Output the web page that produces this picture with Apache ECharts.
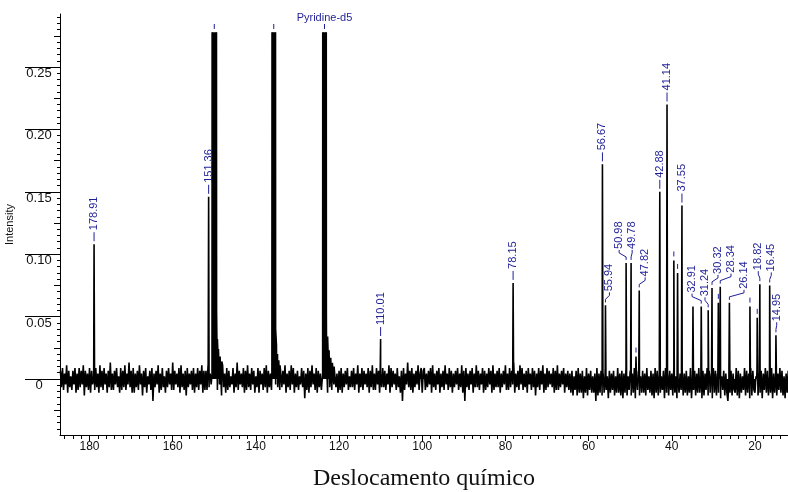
<!DOCTYPE html>
<html>
<head>
<meta charset="utf-8">
<script src="https://cdn.jsdelivr.net/npm/echarts@6/dist/echarts.min.js"></script>
<style>
  html, body { margin: 0; padding: 0; background: #fff; }
  #chart { width: 788px; height: 492px; }
</style>
</head>
<body>
<div id="chart"></div>
<script>
// 13C spectrum: axis tick values
const xTickLabels = [180, 160, 140, 120, 100, 80, 60, 40, 20];
const yTickLabels = [0, 0.05, 0.10, 0.15, 0.20, 0.25];

// Assigned signals (ppm) and their intensities
const peakShifts = [178.91, 151.36, 110.01, 78.15, 56.67, 55.94, 50.98, 49.78, 47.82, 42.88,
                    41.14, 37.55, 32.91, 31.24, 30.32, 28.34, 26.14, 18.82, 16.45, 14.95];
const peakHeights = [0.108, 0.146, 0.032, 0.077, 0.172, 0.059, 0.093, 0.093, 0.071, 0.150,
                     0.220, 0.139, 0.058, 0.055, 0.073, 0.074, 0.061, 0.076, 0.075, 0.035];

// Picked but unlabelled signals
const markedShifts = [48.6, 39.5, 38.6, 28.8, 21.2, 19.45];
const markedHeights = [0.018, 0.095, 0.085, 0.061, 0.058, 0.049];

// Signals that were not picked
const plainShifts = [34.9];
const plainHeights = [0.058];

// Solvent multiplets [ppm, intensity]: the body is far off scale, then a short tail upfield
const solventName = 'Pyridine-d5';
const solventC2Body = [[150.55, 0.004], [150.45, 0.9], [149.55, 0.9]];
const solventC2Tail = [[149.45, 0.055], [149.25, 0.032], [149.0, 0.024], [148.6, 0.018], [148.2, 0.014], [147.8, 0.011]];
const solventC4Body = [[136.15, 0.004], [136.05, 0.9], [135.35, 0.9]];
const solventC4Tail = [[135.25, 0.04], [135.05, 0.027], [134.8, 0.02], [134.5, 0.015], [134.2, 0.011]];
const solventC3Body = [[123.95, 0.004], [123.85, 0.9], [123.15, 0.9]];
const solventC3Tail = [[123.05, 0.05], [122.75, 0.034], [122.4, 0.023], [122.0, 0.017], [121.6, 0.013], [121.2, 0.01]];

// Baseline noise, one letter per point ('m' = 0, one letter = 0.0022)
const noiseStart = 187.0;
const noiseStep = 0.25;
const noiseRows = [
  'pjqiokrhpj nipkqhoiqj pkrgpjoiqh pkniqjohrj piqkohpjsi oipkqjnhqi pjrioksjph',
  'qhojpirkog pjqhnkpiqe ojpkrhoiqj nhpjqkoisi pkojqhrjoi pgqjokpiqh ojqipkrhpi',
  'pirjokqhpj oiqkpgrjoh qipjnkqhoj sipkojqhpi rjoiqkphnj qhpkoiqjrh pjoiqgpkoj',
  'qiojpkrhoj pirkqhojpi nkqjpfoiqh pjrkoiqhpj oiqjpkshoj qipkrjohpi qhojpkqinj',
  'pjqiokrhoj qipkojqhpj rioiqkphoj qjpiokrhqj pkoiqjnhpe qioksjpiqh ojpkrioqhp',
  'qiojpkqhrj oipkqhojpi rkoiqjphoj pkqiojrhpe qjoipkqhoj rjpiokqhpi ojqkphrioj',
  'pjqhojpkri oiqjpkshoj pirkqiojph qkoiqjpgoj qipkrhoiqj pkojqhpiri ojpkqhojpi',
  'ohpgnipgqh ohpfnhqgoi phnhoeqgoh pgohqinfph oipgnhqhog pfohqgnipg ohqfoipgnh',
  'phogqinhpg ofqhpgohni pfqhogpiog qhnfphoiqg ohpgnhqfoi pgohqhnfpg oiqgphofqh',
  'pgohqfnipg oheqhpgoih qgpfohniqg phofqgpihn qgohpfoiqh pgnhqfohpg oiqhpgnfoh pgqhoi'
];

// ---------------------------------------------------------------------------
const INK = '#000';
const BLUE = '#1f1f98';
const SANS = '"Liberation Sans", Arial, Helvetica, sans-serif';
const SERIF = '"Liberation Serif", "Times New Roman", serif';

// frame layout (pixels) and axis extents
const PLOT_LEFT = 60, PLOT_TOP = 14, CLIP_TOP = 33, PLOT_BOTTOM = 435, W = 788, H = 492;
const X_MIN = 12.05, X_MAX = 187.1;
const Y_MIN = -0.0449, Y_MAX = 0.2925;
// spectrum panel is cut off a little below the frame top, same scale
const Y_CLIP = Y_MIN + (Y_MAX - Y_MIN) * (PLOT_BOTTOM - CLIP_TOP) / (PLOT_BOTTOM - PLOT_TOP);

// build the spectrum trace
const noise = noiseRows.join('').replace(/ /g, '').split('')
  .map(ch => (ch.charCodeAt(0) - 109) * 0.0022);
const solventBodies = [solventC2Body, solventC4Body, solventC3Body];
const solventTails = [solventC2Tail, solventC4Tail, solventC3Tail];
const bodyRanges = solventBodies.map(b => [b[b.length - 1][0], b[0][0]]);
const spectrum = [];
noise.forEach((v, i) => {
  const x = +(noiseStart - i * noiseStep).toFixed(3);
  if (bodyRanges.some(r => x >= r[0] - 0.05 && x <= r[1] + 0.05)) return;
  spectrum.push([x, v]);
});
solventBodies.forEach(b => b.forEach(p => spectrum.push([p[0], p[1]])));
solventTails.forEach(t => t.forEach(p => spectrum.push([p[0], p[1]])));
const HALF = 0.12;
function addStick(p, h) { spectrum.push([p + HALF, 0], [p, h], [p - HALF, 0]); }
peakShifts.forEach((p, i) => addStick(p, peakHeights[i]));
markedShifts.forEach((p, i) => addStick(p, markedHeights[i]));
plainShifts.forEach((p, i) => addStick(p, plainHeights[i]));
spectrum.sort((a, b) => b[0] - a[0]);

// tick helpers
function stepValues(lo, hi, step) {
  const out = [];
  for (let k = Math.ceil(lo / step - 1e-9); k * step <= hi + 1e-9; k++) out.push(+(k * step).toFixed(6));
  return out;
}
const xMinor = stepValues(X_MIN, X_MAX, 2);
const yMid = stepValues(Y_MIN, Y_MAX, 0.025);
const yMinor = stepValues(Y_MIN, Y_MAX, 0.005);

// text measurement for the rotated peak labels
const measureCtx = document.createElement('canvas').getContext('2d');
measureCtx.font = '11px ' + SANS;
const fmtShift = p => p.toFixed(2);

// label placement: start above each peak, push overlapping labels apart
// and keep labels off the lines of other signals
const GAP = 13, LINE_CLEAR = 7;
let labelLayout = null;
function layoutLabels(api) {
  const items = peakShifts.map((p, i) => {
    const pt = api.coord([p, peakHeights[i]]);
    return { px: pt[0], py: pt[1], lx: pt[0], w: measureCtx.measureText(fmtShift(p)).width };
  });
  const sticks = [];
  [[peakShifts, peakHeights], [markedShifts, markedHeights], [plainShifts, plainHeights]].forEach(([xs, hs]) => {
    xs.forEach((p, i) => { const pt = api.coord([p, hs[i]]); sticks.push({ x: pt[0], top: pt[1] }); });
  });
  const top = it => it.py - 15 - it.w;
  const bottom = it => it.py - 3;
  for (let iter = 0; iter < 400; iter++) {
    let moved = false;
    for (let a = 0; a < items.length; a++) {
      for (let b = a + 1; b < items.length; b++) {
        const A = items[a], B = items[b];
        if (!(top(A) < bottom(B) && top(B) < bottom(A))) continue;
        const dx = B.lx - A.lx;
        if (Math.abs(dx) < GAP - 0.01) {
          const push = (GAP - Math.abs(dx)) / 2;
          if (dx >= 0) { A.lx -= push; B.lx += push; } else { A.lx += push; B.lx -= push; }
          moved = true;
        }
      }
    }
    items.forEach(it => {
      sticks.forEach(s => {
        if (Math.abs(s.x - it.px) < 0.01) return;
        if (s.top >= bottom(it)) return;
        const d = it.lx - s.x;
        if (Math.abs(d) < LINE_CLEAR - 0.01) {
          it.lx = s.x + (d >= 0 ? LINE_CLEAR : -LINE_CLEAR);
          moved = true;
        }
      });
    });
    if (!moved) break;
  }
  items.forEach(it => { if (it.lx > W - 7) it.lx = W - 7; });
  return items;
}

function renderPeakLabel(params, api) {
  if (params.dataIndex === 0 || !labelLayout) labelLayout = layoutLabels(api);
  const L = labelLayout[params.dataIndex];
  const shifted = Math.abs(L.lx - L.px) > 0.6;
  const pts = shifted
    ? [[L.px, L.py - 3], [L.px, L.py - 6], [L.lx, L.py - 10], [L.lx, L.py - 13]]
    : [[L.px, L.py - 3], [L.px, L.py - 12]];
  return {
    type: 'group',
    children: [
      { type: 'polyline', shape: { points: pts }, style: { stroke: BLUE, lineWidth: 1, fill: null } },
      {
        type: 'text', x: L.lx, y: L.py - 14, rotation: Math.PI / 2,
        style: { text: fmtShift(peakShifts[params.dataIndex]), fill: BLUE, fontSize: 11,
                 fontFamily: SANS, align: 'left', verticalAlign: 'middle' }
      }
    ]
  };
}

// short pick marks; the solvent name sits over the last solvent signal
const markData = markedShifts.map((p, i) => [p, markedHeights[i], 0]);
solventBodies.forEach((b, k) => {
  const bodyTop = Math.max(...b.map(q => q[1]));
  const centre = (b[1][0] + b[2][0]) / 2;
  markData.push([centre, Math.min(bodyTop, Y_CLIP), k === solventBodies.length - 1 ? 1 : 0]);
});
function renderMark(params, api) {
  const pt = api.coord([api.value(0), api.value(1)]);
  const children = [
    { type: 'line', shape: { x1: pt[0], y1: pt[1] - 4, x2: pt[0], y2: pt[1] - 9 },
      style: { stroke: BLUE, lineWidth: 1 } }
  ];
  if (api.value(2) === 1) {
    children.push({
      type: 'text', x: pt[0], y: pt[1] - 10,
      style: { text: solventName, fill: BLUE, fontSize: 11, fontFamily: SANS,
               align: 'center', verticalAlign: 'bottom' }
    });
  }
  return { type: 'group', children };
}

const chart = echarts.init(document.getElementById('chart'), null, { renderer: 'canvas' });
const hiddenTickAxis = extra => Object.assign({
  type: 'value', gridIndex: 0, axisLine: { show: false, onZero: false },
  axisLabel: { show: false }, splitLine: { show: false }
}, extra);

chart.setOption({
  animation: false,
  backgroundColor: '#fff',
  grid: [
    { left: PLOT_LEFT, right: 0, top: PLOT_TOP, bottom: H - PLOT_BOTTOM,
      containLabel: false, outerBoundsMode: 'none' },
    { left: PLOT_LEFT, right: 0, top: CLIP_TOP, bottom: H - PLOT_BOTTOM,
      containLabel: false, outerBoundsMode: 'none' }
  ],
  xAxis: [
    {
      type: 'value', gridIndex: 0, position: 'bottom', inverse: true, min: X_MIN, max: X_MAX,
      axisLine: { show: true, onZero: false, lineStyle: { color: INK, width: 1 } },
      axisTick: { show: true, customValues: xTickLabels, length: 6, lineStyle: { color: INK } },
      axisLabel: { customValues: xTickLabels, margin: 6, color: '#111', fontSize: 12, fontFamily: SANS },
      splitLine: { show: false },
      name: 'Deslocamento químico', nameLocation: 'middle', nameGap: 32,
      nameTextStyle: { color: '#111', fontSize: 24, fontFamily: SERIF }
    },
    { type: 'value', gridIndex: 1, inverse: true, min: X_MIN, max: X_MAX, show: false },
    hiddenTickAxis({
      position: 'bottom', inverse: true, min: X_MIN, max: X_MAX,
      axisTick: { show: true, customValues: xMinor, length: 4, lineStyle: { color: INK } }
    })
  ],
  yAxis: [
    {
      type: 'value', gridIndex: 0, position: 'left', min: Y_MIN, max: Y_MAX,
      axisLine: { show: true, onZero: false, lineStyle: { color: INK, width: 1 } },
      axisTick: { show: true, customValues: yTickLabels, length: 35, lineStyle: { color: INK } },
      axisLabel: {
        customValues: yTickLabels, align: 'center', verticalAlign: 'top', margin: 21,
        color: '#111', fontSize: 13, fontFamily: SANS,
        formatter: v => (v === 0 ? '0' : v.toFixed(2))
      },
      splitLine: { show: false },
      name: 'Intensity', nameLocation: 'middle', nameGap: 39, nameRotate: 90,
      nameTextStyle: { color: '#111', fontSize: 11, fontFamily: SANS }
    },
    { type: 'value', gridIndex: 1, min: Y_MIN, max: Y_CLIP, show: false },
    hiddenTickAxis({
      position: 'left', min: Y_MIN, max: Y_MAX,
      axisTick: { show: true, customValues: yMid, length: 6, lineStyle: { color: INK } }
    }),
    hiddenTickAxis({
      position: 'left', min: Y_MIN, max: Y_MAX,
      axisTick: { show: true, customValues: yMinor, length: 3, lineStyle: { color: INK } }
    })
  ],
  series: [
    {
      type: 'line', xAxisIndex: 1, yAxisIndex: 1, data: spectrum,
      showSymbol: false, symbol: 'none', clip: true, silent: true,
      lineStyle: { color: INK, width: 1.6 },
      areaStyle: { color: INK, opacity: 1, origin: 0 },
      z: 2
    },
    {
      type: 'custom', xAxisIndex: 0, yAxisIndex: 0, clip: false, silent: true, z: 3,
      data: peakShifts.map((p, i) => [p, peakHeights[i]]),
      renderItem: renderPeakLabel
    },
    {
      type: 'custom', xAxisIndex: 0, yAxisIndex: 0, clip: false, silent: true, z: 3,
      data: markData,
      renderItem: renderMark
    }
  ]
});
</script>
</body>
</html>
